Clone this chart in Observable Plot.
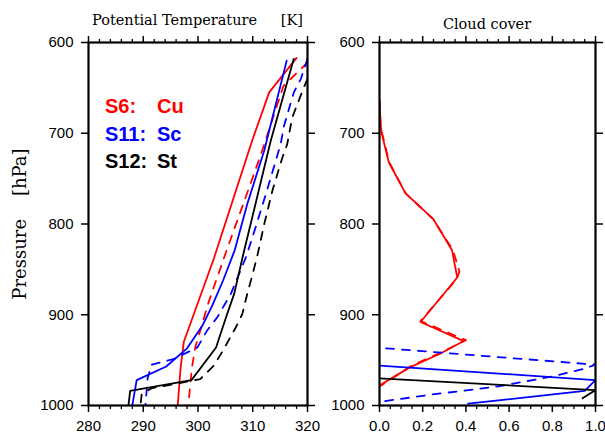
<!DOCTYPE html>
<html>
<head>
<meta charset="utf-8">
<script src="https://cdn.jsdelivr.net/npm/d3@7"></script>
<script src="https://cdn.jsdelivr.net/npm/@observablehq/plot@0.6"></script>
<style>
  html, body { margin: 0; padding: 0; background: #fff; }
  #chart { position: relative; width: 605px; height: 435px; overflow: hidden; }
  #chart > div { position: absolute; top: 0; }
  #overlay { position: absolute; left: 0; top: 0; pointer-events: none; }
</style>
</head>
<body>
<div id="chart"></div>
<script>
// ---------- tick values ----------
const thetaTicks = [280, 290, 300, 310, 320];
const thetaMinorTicks = [282, 284, 286, 288, 292, 294, 296, 298, 302, 304, 306, 308, 312, 314, 316, 318];
const pressureTicks = [600, 700, 800, 900, 1000];
const cloudTicks = [0, 0.2, 0.4, 0.6, 0.8, 1.0];
const cloudMinorTicks = [0.05, 0.1, 0.15, 0.25, 0.3, 0.35, 0.45, 0.5, 0.55, 0.65, 0.7, 0.75, 0.85, 0.9, 0.95];

// ---------- legend ----------
const caseNames = ["S6:", "S11:", "S12:"];
const cloudTypes = ["Cu", "Sc", "St"];
const caseColors = ["#ff0000", "#0000ff", "#000000"];

// ---------- potential temperature profiles [theta K, pressure hPa] ----------
const thetaS6Solid = [[318.0, 617], [313.0, 655], [309.9, 708], [302.9, 838], [297.4, 930], [296.8, 960], [296.3, 1000]];
const thetaS6Dashed = [[320.0, 622], [315.6, 648], [311.4, 725], [305.0, 833], [302.0, 885], [299.5, 936], [298.9, 958], [298.3, 995], [298.2, 1000]];
const thetaS11Solid = [[316.2, 620], [312.1, 719], [309.0, 778], [306.7, 829], [304.6, 862], [302.6, 890], [300.8, 912], [298.0, 937], [294.2, 957], [288.8, 972], [288.0, 1000]];
const thetaS11Dashed = [[320.0, 618], [318.8, 640], [317.5, 655], [315.7, 692], [315.1, 712], [312.4, 767], [310.5, 804], [308.8, 836], [307.5, 855], [306.0, 877], [303.5, 903], [301.7, 917], [299.9, 936], [295.5, 949], [291.5, 955], [290.8, 970], [290.4, 1000]];
const thetaS12Solid = [[317.5, 618], [313.3, 708], [310.5, 778], [308.4, 830], [306.6, 877], [305.0, 905], [303.3, 936], [298.8, 972], [287.6, 984], [287.3, 1000]];
const thetaS12Dashed = [[320.0, 640], [319.1, 653], [317.2, 683], [316.3, 712], [315.4, 727], [313.6, 763], [312.1, 800], [310.8, 836], [309.9, 857], [309.0, 877], [308.1, 899], [306.9, 914], [304.7, 938], [302.9, 956], [300.4, 971], [291.5, 981], [289.7, 988], [289.5, 1000]];

// ---------- cloud cover profiles [fraction, pressure hPa] ----------
const cloudS6Solid = [[0, 664], [0.005, 690], [0.01, 700], [0.043, 732], [0.12, 766], [0.25, 795], [0.336, 829], [0.36, 859], [0.19, 908], [0.39, 929], [0.28, 943], [0.14, 958], [0, 978]];
const cloudS6Dashed = [[0, 664], [0.005, 690], [0.012, 700], [0.045, 732], [0.12, 766], [0.25, 795], [0.34, 829], [0.37, 852], [0.36, 860], [0.19, 907], [0.40, 928], [0.29, 941], [0.15, 956], [0, 979]];
const cloudS11Solid = [[0, 956], [1.0, 972], [0.95, 984], [0.41, 998]];
const cloudS11Dashed = [[0.03, 937], [1.0, 955], [0.94, 960], [0.8, 968], [0.55, 979], [0.24, 988], [0, 996]];
const cloudS12Solid = [[0, 970], [1.0, 983], [0.94, 992]];

const DASH = "8,8";
const LW = 1.8;

function series(data, color, dashed) {
  return Plot.line(data, {
    x: d => d[0], y: d => d[1],
    stroke: color, strokeWidth: LW,
    strokeDasharray: dashed ? DASH : null,
    clip: true
  });
}

const baseStyle = {
  fontFamily: "'Liberation Sans', Arial, Helvetica, sans-serif",
  fontSize: "15px",
  color: "#000",
  background: "transparent",
  overflow: "visible"
};

function axes(xTicks, xMinor, xFormat, tickPad) {
  return [
    Plot.axisX({anchor: "bottom", ticks: xTicks, tickSize: 7, tickPadding: tickPad, tickFormat: xFormat, label: null, strokeWidth: 1.5}),
    Plot.axisX({anchor: "bottom", ticks: xMinor, tickSize: 4, fill: "none", label: null, strokeWidth: 1.3}),
    Plot.axisX({anchor: "top", ticks: xTicks, tickSize: 7, fill: "none", label: null, strokeWidth: 1.5}),
    Plot.axisX({anchor: "top", ticks: xMinor, tickSize: 4, fill: "none", label: null, strokeWidth: 1.3}),
    Plot.axisY({anchor: "left", ticks: pressureTicks, tickSize: 7, tickPadding: 8, tickFormat: d => String(d), label: null, strokeWidth: 1.5}),
    Plot.axisY({anchor: "right", ticks: pressureTicks, tickSize: 7, fill: "none", label: null, strokeWidth: 1.5}),
    Plot.frame({stroke: "#000", strokeWidth: 2.2})
  ];
}

const left = Plot.plot({
  width: 330, height: 435,
  marginLeft: 88, marginRight: 23, marginTop: 42, marginBottom: 30,
  x: {domain: [280, 320]},
  y: {domain: [600, 1000], reverse: true},
  style: baseStyle,
  marks: [
    series(thetaS6Solid, caseColors[0], false),
    series(thetaS6Dashed, caseColors[0], true),
    series(thetaS11Solid, caseColors[1], false),
    series(thetaS11Dashed, caseColors[1], true),
    series(thetaS12Solid, caseColors[2], false),
    series(thetaS12Dashed, caseColors[2], true),
    ...axes(thetaTicks, thetaMinorTicks, d => String(d), 8)
  ]
});

const right = Plot.plot({
  width: 275, height: 435,
  marginLeft: 49, marginRight: 10, marginTop: 42, marginBottom: 30,
  x: {domain: [0, 1]},
  y: {domain: [600, 1000], reverse: true},
  style: baseStyle,
  marks: [
    series(cloudS6Solid, caseColors[0], false),
    series(cloudS6Dashed, caseColors[0], true),
    series(cloudS11Solid, caseColors[1], false),
    series(cloudS11Dashed, caseColors[1], true),
    series(cloudS12Solid, caseColors[2], false),
    ...axes(cloudTicks, cloudMinorTicks, d3.format(".1f"), 8)
  ]
});

const chart = document.getElementById("chart");
const d1 = document.createElement("div"); d1.style.left = "0px"; d1.appendChild(left);
const d2 = document.createElement("div"); d2.style.left = "330px"; d2.appendChild(right);
chart.appendChild(d1); chart.appendChild(d2);

// ---------- overlay texts ----------
const svg = d3.select(chart).append("svg")
  .attr("id", "overlay").attr("width", 605).attr("height", 435);

const serif = "'DejaVu Serif', 'Liberation Serif', serif";
svg.append("text").attr("x", 92).attr("y", 25)
  .style("font-family", serif).style("font-size", "14.5px").style("white-space", "pre")
  .text("Potential Temperature");
svg.append("text").attr("x", 303).attr("y", 25).attr("text-anchor", "end")
  .style("font-family", serif).style("font-size", "14.5px")
  .text("[K]");
svg.append("text").attr("x", 487).attr("y", 29).attr("text-anchor", "middle")
  .style("font-family", serif).style("font-size", "14.5px").style("white-space", "pre")
  .text("Cloud cover");
svg.append("text").attr("transform", "translate(26,224) rotate(-90)").attr("text-anchor", "middle")
  .style("font-family", serif).style("font-size", "18px").style("white-space", "pre")
  .text("Pressure    [hPa]");

const legendY = [113, 141, 168];
caseNames.forEach((name, i) => {
  const g = svg.append("g").style("font-family", "'Liberation Sans', Arial, sans-serif")
    .style("font-size", "20px").style("font-weight", "bold").attr("fill", caseColors[i]);
  g.append("text").attr("x", 105).attr("y", legendY[i]).text(name);
  g.append("text").attr("x", 157).attr("y", legendY[i]).text(cloudTypes[i]);
});
</script>
</body>
</html>
